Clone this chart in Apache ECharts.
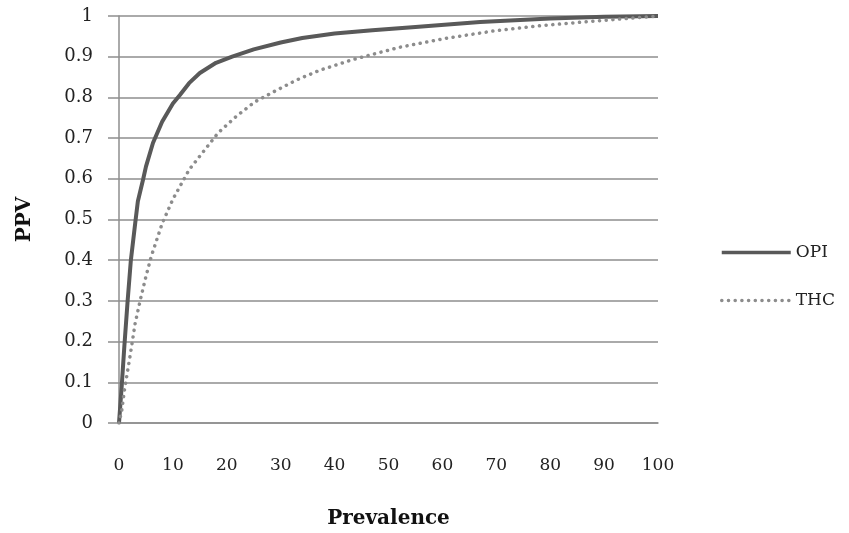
<!DOCTYPE html>
<html>
<head>
<meta charset="utf-8">
<script src="https://cdn.jsdelivr.net/npm/echarts@6/dist/echarts.min.js"></script>
<style>
html,body{margin:0;padding:0;background:#fff;}
#chart{width:849px;height:533px;}
</style>
</head>
<body>
<div id="chart"></div>
<script>
// Prevalence (x) and PPV (y) readings
const opiPrev = [0, 0.5, 1, 1.6, 2.2, 3, 3.5, 4.5, 5, 6.3, 8, 10, 11.3, 13, 15, 18, 21, 25, 30, 34, 40, 47, 55, 67, 80, 90, 100];
const opiPPV  = [0, 0.09, 0.19, 0.30, 0.40, 0.49, 0.545, 0.60, 0.63, 0.688, 0.74, 0.785, 0.806, 0.835, 0.86, 0.885, 0.90, 0.918, 0.935, 0.946, 0.957, 0.965, 0.973, 0.985, 0.994, 0.998, 1];
const thcPrev = [0, 0.5, 1, 2, 3, 4, 5, 6, 8, 10, 13, 15.6, 18.4, 21.8, 25.2, 29.3, 33, 37.3, 43.4, 52, 61, 69.4, 78, 86.8, 95.3, 100];
const thcPPV  = [0, 0.03, 0.08, 0.16, 0.245, 0.305, 0.36, 0.41, 0.49, 0.55, 0.622, 0.666, 0.713, 0.754, 0.789, 0.818, 0.843, 0.867, 0.893, 0.923, 0.946, 0.963, 0.976, 0.986, 0.995, 1];
const seriesNames = ['OPI', 'THC'];
const xTitle = 'Prevalence';
const yTitle = 'PPV';

const pair = (xs, ys) => xs.map((x, i) => [x, ys[i]]);
const font = 'DejaVu Serif';
const gridColor = '#8e8e8e';

const chart = echarts.init(document.getElementById('chart'));
chart.setOption({
  animation: false,
  backgroundColor: '#fff',
  grid: { left: 119, right: 191, top: 16, bottom: 110, containLabel: false, outerBoundsMode: 'none' },
  legend: {
    orient: 'vertical',
    left: 720,
    top: 244,
    padding: 0,
    itemWidth: 69,
    itemHeight: 14,
    itemGap: 31,
    itemTextGap: 8,
    itemStyle: { color: 'rgba(0,0,0,0)', borderWidth: 0, opacity: 0 },
    lineStyle: { width: 3.5 },
    textStyle: { fontFamily: font, fontSize: 17, color: '#222' },
    data: seriesNames
  },
  xAxis: {
    type: 'value',
    min: 0, max: 100, interval: 10,
    name: xTitle,
    nameLocation: 'middle',
    nameGap: 86,
    nameTextStyle: { fontFamily: font, fontSize: 20, fontWeight: 'bold', color: '#111' },
    axisLine: { show: true, lineStyle: { color: gridColor, width: 1.5 } },
    axisTick: { show: false },
    splitLine: { show: false },
    axisLabel: { fontFamily: font, fontSize: 17, color: '#222', margin: 34 }
  },
  yAxis: {
    type: 'value',
    min: 0, max: 1, interval: 0.1,
    name: yTitle,
    nameLocation: 'middle',
    nameGap: 84,
    nameTextStyle: { fontFamily: font, fontSize: 20, fontWeight: 'bold', color: '#111' },
    axisLine: { show: true, lineStyle: { color: gridColor, width: 1.5 } },
    axisTick: { show: true, length: 11, lineStyle: { color: gridColor, width: 1.5 } },
    splitLine: { show: true, lineStyle: { color: gridColor, width: 1.5 } },
    axisLabel: { fontFamily: font, fontSize: 18, color: '#222', margin: 26,
      formatter: v => String(Math.round(v * 10) / 10) }
  },
  series: [
    {
      name: seriesNames[0], type: 'line', data: pair(opiPrev, opiPPV),
      showSymbol: false, symbol: 'none', smooth: false,
      lineStyle: { color: '#595959', width: 4 },
      itemStyle: { color: '#595959' }
    },
    {
      name: seriesNames[1], type: 'line', data: pair(thcPrev, thcPPV),
      showSymbol: false, symbol: 'none', smooth: false,
      lineStyle: { color: '#8c8c8c', width: 3.5, type: [0.1, 6.6], cap: 'round' },
      itemStyle: { color: '#8c8c8c' }
    }
  ]
});
</script>
</body>
</html>
